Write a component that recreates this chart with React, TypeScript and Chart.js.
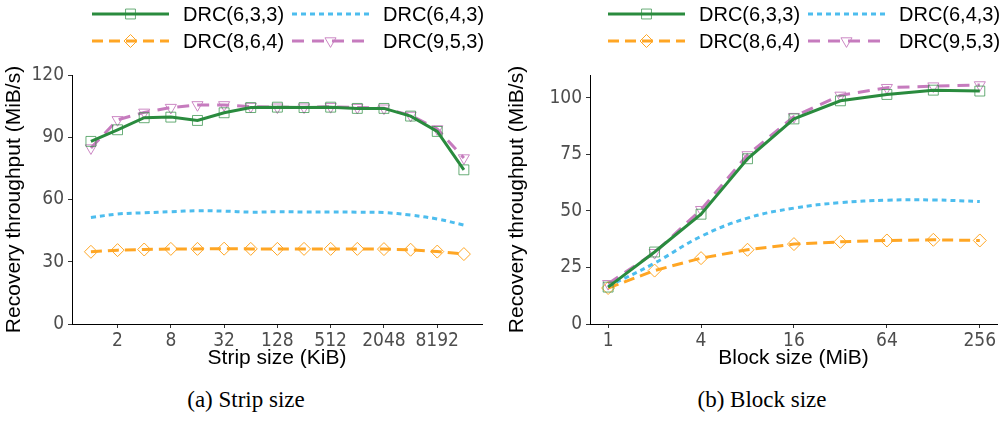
import React, { useEffect, useRef } from 'react';
import { Chart, registerables } from 'chart.js';
Chart.register(...registerables);

// ---------- data ----------
const seriesNames = ['DRC(6,3,3)', 'DRC(6,4,3)', 'DRC(8,6,4)', 'DRC(9,5,3)'];

const stripSizes = [1, 2, 4, 8, 16, 32, 64, 128, 256, 512, 1024, 2048, 4096, 8192, 16384];
const stripTickLabels = [2, 8, 32, 128, 512, 2048, 8192];
const stripDRC633 = [88, 93.6, 99.4, 99.7, 98.1, 101.8, 104.3, 104.5, 104.3, 104.5, 103.9, 103.9, 100.2, 92.8, 74.3];
const stripDRC643 = [51.3, 53, 53.6, 54.1, 54.6, 54.4, 53.9, 54.1, 54, 54, 53.9, 53.7, 52.5, 50.6, 47.7];
const stripDRC864 = [34.8, 35.6, 35.9, 36.2, 36.2, 36.3, 36.2, 36.2, 36.2, 36.2, 36.2, 36.1, 35.8, 34.9, 33.7];
const stripDRC953 = [84.8, 98.4, 102, 104.3, 105.6, 105.6, 104.8, 104.5, 104.5, 104.7, 104.3, 104, 100.5, 94, 80];
const stripYTicks = [0, 30, 60, 90, 120];

const blockSizes = [1, 2, 4, 8, 16, 32, 64, 128, 256];
const blockTickLabels = [1, 4, 16, 64, 256];
const blockDRC633 = [16.3, 31.8, 48.5, 73, 90.6, 98.6, 101.4, 103.3, 102.9];
const blockDRC643 = [16.6, 26.9, 38.7, 46.8, 51.2, 53.6, 54.7, 54.8, 54.1];
const blockDRC864 = [15.9, 23.6, 29.1, 32.8, 35.3, 36.3, 36.9, 37.2, 36.9];
const blockDRC953 = [17.8, 31.5, 50.5, 74.7, 91.6, 101, 104.4, 105.1, 105.6];
const blockYTicks = [0, 25, 50, 75, 100];

// ---------- styles ----------
const seriesStyles = [
  { line: '#2A8B3E', marker: 'rgba(42,139,62,0.7)', dash: [] as number[], point: 'rect', radius: 7, rotation: 0, tension: 0 },
  { line: '#4DBDEE', marker: '#4DBDEE', dash: [5, 4], point: false, radius: 0, rotation: 0, tension: 0.4 },
  { line: '#FFA624', marker: '#FFA624', dash: [11, 6], point: 'rectRot', radius: 6.5, rotation: 0, tension: 0 },
  { line: '#C67BBE', marker: 'rgba(198,123,190,0.9)', dash: [12, 8], point: 'triangle', radius: 6.4, rotation: 180, tension: 0 },
];

const tickFont = { family: "'Liberation Sans Narrow', 'DejaVu Sans Condensed', 'Liberation Sans', sans-serif", size: 19 };
const titleFont = { family: "'Liberation Sans', Arial, sans-serif", size: 21 };
const legendFontStr = "20px 'Liberation Sans', Arial, sans-serif";

function drawMarker(ctx: CanvasRenderingContext2D, kind: any, x: number, y: number, r: number, color: string) {
  if (!kind) return;
  ctx.save();
  ctx.setLineDash([]);
  ctx.strokeStyle = color;
  ctx.lineWidth = 1;
  ctx.fillStyle = '#ffffff';
  ctx.beginPath();
  if (kind === 'rect') {
    const s = Math.SQRT1_2 * r;
    ctx.rect(x - s, y - s, 2 * s, 2 * s);
  } else if (kind === 'rectRot') {
    ctx.moveTo(x, y - r);
    ctx.lineTo(x + r, y);
    ctx.lineTo(x, y + r);
    ctx.lineTo(x - r, y);
    ctx.closePath();
  } else if (kind === 'triangle') {
    // pointing down
    ctx.moveTo(x, y + r);
    ctx.lineTo(x + Math.cos(Math.PI / 6) * r, y - r / 2);
    ctx.lineTo(x - Math.cos(Math.PI / 6) * r, y - r / 2);
    ctx.closePath();
  }
  ctx.stroke();
  ctx.restore();
}

const legendPlugin = {
  id: 'customLegend',
  afterDraw(chart: any, _args: any, opts: any) {
    const ctx: CanvasRenderingContext2D = chart.ctx;
    const x0 = chart.chartArea.left + (opts.offsetX || 0);
    seriesNames.forEach((name, i) => {
      const st = seriesStyles[i];
      const col = i % 2;
      const row = Math.floor(i / 2);
      const lx = x0 + col * 200;
      const ly = opts.rowY[row];
      ctx.save();
      ctx.strokeStyle = st.line;
      ctx.lineWidth = 3;
      ctx.setLineDash(st.dash);
      ctx.beginPath();
      ctx.moveTo(lx, ly);
      ctx.lineTo(lx + 77, ly);
      ctx.stroke();
      ctx.restore();
      drawMarker(ctx, st.point, lx + 38.5, ly, st.radius, st.marker);
      ctx.save();
      ctx.fillStyle = '#000';
      ctx.font = legendFontStr;
      ctx.textBaseline = 'middle';
      ctx.textAlign = 'left';
      ctx.fillText(name, lx + 91, ly + 1);
      ctx.restore();
    });
  },
};

type PanelProps = {
  sizes: number[];
  series: number[][];
  tickLabels: number[];
  yTicks: number[];
  yMax: number;
  xMin: number;
  xMax: number;
  xTitle: string;
  yAxisWidth: number;
  yTitlePad: number;
  rightPad: number;
  legendOffset: number;
  left: number;
  width: number;
};

function Panel(p: PanelProps) {
  const ref = useRef<HTMLCanvasElement | null>(null);
  useEffect(() => {
    if (!ref.current) return;
    const datasets = p.series.map((vals, i) => {
      const st = seriesStyles[i];
      return {
        label: seriesNames[i],
        data: vals.map((v, j) => ({ x: Math.log2(p.sizes[j]), y: v })),
        borderColor: st.line,
        borderWidth: 3,
        borderDash: st.dash,
        tension: st.tension,
        fill: false,
        pointStyle: st.point as any,
        pointRadius: st.radius,
        pointRotation: st.rotation,
        pointBorderColor: st.marker,
        pointBackgroundColor: 'rgba(255,255,255,0)',
        pointBorderWidth: 1,
      };
    });
    const chart = new Chart(ref.current, {
      type: 'line',
      data: { datasets },
      plugins: [legendPlugin as any],
      options: {
        animation: false,
        responsive: false,
        layout: { padding: { top: 75, right: p.rightPad, left: 0, bottom: 0 } },
        plugins: {
          legend: { display: false },
          tooltip: { enabled: false },
          customLegend: { offsetX: p.legendOffset, rowY: [14, 41] },
        } as any,
        scales: {
          x: {
            type: 'linear',
            min: p.xMin,
            max: p.xMax,
            afterBuildTicks: (scale: any) => {
              scale.ticks = p.tickLabels.map((t) => ({ value: Math.log2(t) }));
            },
            afterFit: (scale: any) => {
              scale.height = 51;
            },
            ticks: {
              font: tickFont,
              color: '#4D4D4D',
              padding: 2,
              maxRotation: 0,
              autoSkip: false,
              callback: (v: any) => String(Math.round(Math.pow(2, Number(v)))),
            },
            grid: { drawOnChartArea: false, drawTicks: true, tickLength: 4, color: '#333' },
            border: { display: true, color: '#000', width: 1 },
            title: { display: true, text: p.xTitle, font: titleFont, color: '#000', padding: { top: 0, bottom: 4 } },
          },
          y: {
            type: 'linear',
            min: 0,
            max: p.yMax,
            afterBuildTicks: (scale: any) => {
              scale.ticks = p.yTicks.map((t) => ({ value: t }));
            },
            afterFit: (scale: any) => {
              scale.width = p.yAxisWidth;
            },
            ticks: { font: tickFont, color: '#4D4D4D', padding: 4 },
            grid: { drawOnChartArea: false, drawTicks: true, tickLength: 4, color: '#333' },
            border: { display: true, color: '#000', width: 1 },
            title: {
              display: true,
              text: 'Recovery throughput (MiB/s)',
              font: titleFont,
              color: '#000',
              padding: { top: p.yTitlePad, bottom: 0 },
            },
          },
        },
      } as any,
    });
    return () => chart.destroy();
  }, []);
  return (
    <canvas
      ref={ref}
      width={p.width}
      height={375}
      style={{ position: 'absolute', left: p.left, top: 0, width: p.width, height: 375 }}
    />
  );
}

const captionStyle: React.CSSProperties = {
  position: 'absolute',
  top: 388,
  width: 240,
  textAlign: 'center',
  fontFamily: "'Liberation Serif', 'Times New Roman', serif",
  fontSize: 23,
  lineHeight: '23px',
  color: '#000',
  whiteSpace: 'nowrap',
};

export default function App() {
  return (
    <div style={{ position: 'absolute', left: 0, top: 0, width: 1005, height: 422, background: '#fff', overflow: 'hidden' }}>
      <Panel
        sizes={stripSizes}
        series={[stripDRC633, stripDRC643, stripDRC864, stripDRC953]}
        tickLabels={stripTickLabels}
        yTicks={stripYTicks}
        yMax={120}
        xMin={-0.71}
        xMax={14.68}
        xTitle="Strip size (KiB)"
        yAxisWidth={72}
        yTitlePad={2}
        rightPad={18}
        legendOffset={20}
        left={0}
        width={500}
      />
      <Panel
        sizes={blockSizes}
        series={[blockDRC633, blockDRC643, blockDRC864, blockDRC953]}
        tickLabels={blockTickLabels}
        yTicks={blockYTicks}
        yMax={110}
        xMin={-0.39}
        xMax={8.37}
        xTitle="Block size (MiB)"
        yAxisWidth={90}
        yTitlePad={5}
        rightPad={8}
        legendOffset={18}
        left={500}
        width={505}
      />
      <div style={{ ...captionStyle, left: 246 - 120 }}>(a) Strip size</div>
      <div style={{ ...captionStyle, left: 762 - 120 }}>(b) Block size</div>
    </div>
  );
}
